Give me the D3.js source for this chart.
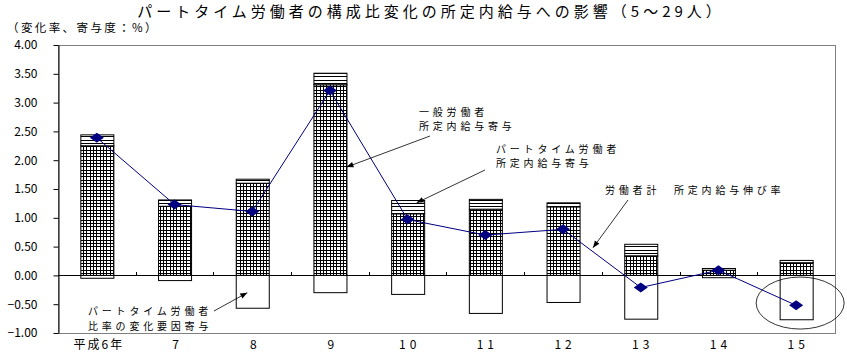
<!DOCTYPE html>
<html>
<head>
<meta charset="utf-8">
<script src="https://cdn.jsdelivr.net/npm/d3@7"></script>
<style>
  body { margin: 0; background: #fff; }
  svg { display: block; }
  text { font-family: "Noto Sans CJK JP", sans-serif; }
</style>
</head>
<body>
<svg id="chart" width="847" height="354"></svg>
<script>
// data
const years = ["平成6年", "7", "8", "9", "10", "11", "12", "13", "14", "15"];
const generalContrib = [2.25, 1.20, 1.60, 3.31, 1.07, 1.15, 1.19, 0.34, 0.09, 0.22];
const partContrib    = [0.19, 0.11, 0.07, 0.20, 0.23, 0.17, 0.07, 0.20, 0.03, 0.04];
const ratioContrib   = [-0.05, -0.09, -0.57, -0.30, -0.33, -0.66, -0.47, -0.76, -0.04, -0.77];
const totalGrowth    = [2.39, 1.23, 1.11, 3.21, 0.97, 0.70, 0.80, -0.21, 0.09, -0.52];
const yTicks = [4, 3.5, 3, 2.5, 2, 1.5, 1, 0.5, 0, -0.5, -1];

const svg = d3.select("#chart");
const plotL = 58, plotR = 835, plotT = 45, plotB = 333;

const x = d3.scaleBand().domain(years).range([plotL, plotR])
    .paddingInner(0.575).paddingOuter(0.2875);
const y = d3.scaleLinear().domain([-1, 4]).range([plotB, plotT]);
const cx = d => x(d) + x.bandwidth() / 2;

// fill patterns
const defs = svg.append("defs");
const grid = defs.append("pattern").attr("id", "grid")
    .attr("patternUnits", "userSpaceOnUse").attr("width", 10).attr("height", 10);
grid.append("rect").attr("width", 10).attr("height", 10).attr("fill", "#fff");
[0.5, 3.5, 6.5].forEach(p => {
    grid.append("line").attr("x1", p).attr("x2", p).attr("y1", 0).attr("y2", 10)
        .attr("stroke", "#000").attr("stroke-width", 1);
    grid.append("line").attr("y1", p).attr("y2", p).attr("x1", 0).attr("x2", 10)
        .attr("stroke", "#000").attr("stroke-width", 1);
});
const hl = defs.append("pattern").attr("id", "hlines")
    .attr("patternUnits", "userSpaceOnUse").attr("width", 10).attr("height", 10);
hl.append("rect").attr("width", 10).attr("height", 10).attr("fill", "#fff");
[0.5, 3.5, 6.5].forEach(p => {
    hl.append("line").attr("y1", p).attr("y2", p).attr("x1", 0).attr("x2", 10)
        .attr("stroke", "#000").attr("stroke-width", 1);
});
defs.append("marker").attr("id", "arrow")
    .attr("viewBox", "0 0 10 10").attr("refX", 10).attr("refY", 5)
    .attr("markerWidth", 9).attr("markerHeight", 7)
    .attr("markerUnits", "userSpaceOnUse").attr("orient", "auto")
  .append("path").attr("d", "M0,1L10,5L0,9Z").attr("fill", "#000");

// title
svg.append("text").attr("x", 431).attr("y", 17).attr("text-anchor", "middle")
    .attr("font-size", 15).attr("letter-spacing", 4)
    .text("パートタイム労働者の構成比変化の所定内給与への影響（5～29人）");
svg.append("text").attr("x", 7).attr("y", 32)
    .attr("font-size", 11.5).attr("letter-spacing", 2.4)
    .text("（変化率、寄与度：%）");

// plot frame
svg.append("rect").attr("x", plotL + 0.5).attr("y", plotT + 0.5)
    .attr("width", plotR - plotL).attr("height", plotB - plotT)
    .attr("fill", "none").attr("stroke", "#808080");

// y axis
const yAxis = svg.append("g").attr("transform", `translate(${plotL + 0.5},0)`)
    .call(d3.axisLeft(y).tickValues(yTicks).tickSize(5).tickSizeOuter(0)
        .tickPadding(16).tickFormat(d3.format(".2f")));
yAxis.selectAll("text").attr("font-family", "Liberation Sans, sans-serif")
    .attr("font-size", 12).attr("fill", "#000");
yAxis.selectAll("line, path").attr("stroke", "#000");

// bars
const rows = years.map((yr, i) => ({
    yr, g: generalContrib[i], p: partContrib[i], r: ratioContrib[i], t: totalGrowth[i]
}));
const bars = svg.append("g");
bars.selectAll(".neg").data(rows).join("rect")
    .attr("x", d => x(d.yr) + 0.5).attr("width", x.bandwidth())
    .attr("y", y(0)).attr("height", d => y(d.r) - y(0))
    .attr("fill", "#fff").attr("stroke", "#000");
bars.selectAll(".gen").data(rows).join("rect")
    .attr("x", d => x(d.yr) + 0.5).attr("width", x.bandwidth())
    .attr("y", d => y(d.g)).attr("height", d => y(0) - y(d.g))
    .attr("fill", "url(#grid)").attr("stroke", "#000");
bars.selectAll(".part").data(rows).join("rect")
    .attr("x", d => x(d.yr) + 0.5).attr("width", x.bandwidth())
    .attr("y", d => y(d.g + d.p)).attr("height", d => y(d.g) - y(d.g + d.p))
    .attr("fill", "url(#hlines)").attr("stroke", "#000");

// zero line and category ticks
svg.append("line").attr("x1", plotL).attr("x2", plotR)
    .attr("y1", Math.round(y(0)) + 0.5).attr("y2", Math.round(y(0)) + 0.5)
    .attr("stroke", "#000");
svg.append("g").selectAll("line").data(years.slice(1)).join("line")
    .attr("x1", d => Math.round(x(d) - x.step() * x.paddingInner() / 2) + 0.5)
    .attr("x2", d => Math.round(x(d) - x.step() * x.paddingInner() / 2) + 0.5)
    .attr("y1", Math.round(y(0)) - 3).attr("y2", Math.round(y(0)))
    .attr("stroke", "#000");

// x labels
svg.append("g").selectAll("text").data(years).join("text")
    .attr("x", d => cx(d) + 2).attr("y", 349).attr("text-anchor", "middle")
    .attr("font-size", 12).attr("letter-spacing", d => d.length > 1 && !isNaN(d) ? 4 : 2)
    .text(d => d);

// total growth line
svg.append("path").datum(rows)
    .attr("d", d3.line().x(d => cx(d.yr)).y(d => y(d.t)))
    .attr("fill", "none").attr("stroke", "#000080").attr("stroke-width", 1);
svg.append("g").selectAll("path").data(rows).join("path")
    .attr("transform", d => `translate(${cx(d.yr)},${y(d.t)})`)
    .attr("d", "M0,-5L7,0L0,5L-7,0Z").attr("fill", "#000080");

// annotations
function note(lines, tx, ty, x1, y1, x2, y2) {
    lines.forEach((s, i) => svg.append("text").attr("x", tx).attr("y", ty + i * 14.8)
        .attr("font-size", 10).attr("letter-spacing", 3.8).text(s));
    svg.append("line").attr("x1", x1).attr("y1", y1).attr("x2", x2).attr("y2", y2)
        .attr("stroke", "#000").attr("stroke-width", 0.8).attr("marker-end", "url(#arrow)");
}
note(["一般労働者", "所定内給与寄与"], 419, 115.5, 430, 136,
    cx("9") + x.bandwidth() / 2, y(1.88));
note(["パートタイム労働者", "所定内給与寄与"], 496, 152.5, 485, 170,
    cx("10") + 9, y(1.26));
note(["労働者計　所定内給与伸び率"], 605, 194, 628, 200,
    593, y(0.48));
note(["パートタイム労働者", "比率の変化要因寄与"], 88, 315, 214, 311,
    cx("8") - 5, y(-0.30));

// circle around the last bar
svg.append("ellipse").attr("cx", cx("15") + 4).attr("cy", y(-0.48))
    .attr("rx", 44).attr("ry", 26)
    .attr("fill", "none").attr("stroke", "#000").attr("stroke-width", 0.8);
</script>
</body>
</html>
